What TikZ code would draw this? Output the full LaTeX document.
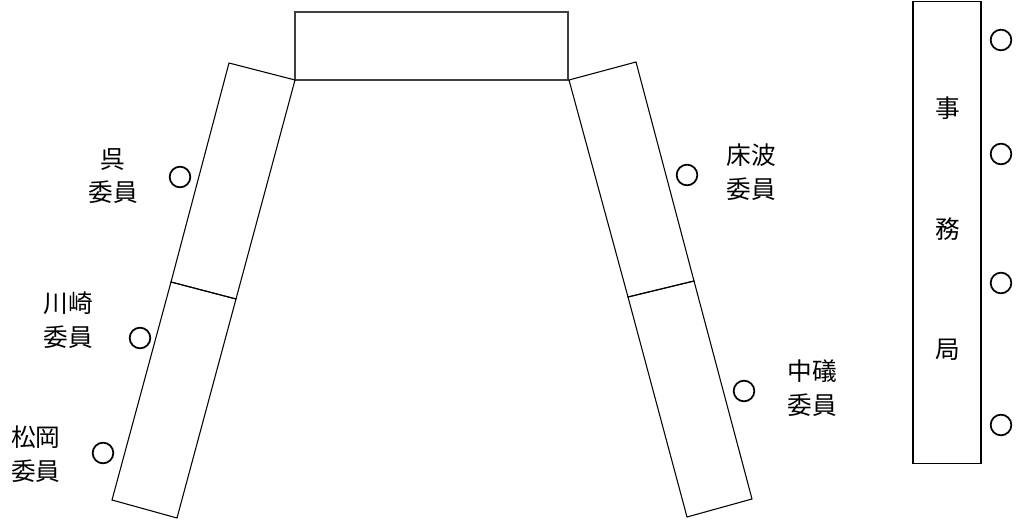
\documentclass[tikz,border=0pt]{standalone}
\usepackage{fontspec}
\setmainfont{Noto Sans CJK JP}
\begin{document}
\begin{tikzpicture}[x=0.75pt,y=-0.75pt,line width=0.8pt,lbl/.style={align=center, inner sep=0pt, font=\fontsize{18.5}{25}\selectfont}]
\tikzstyle{seat}=[circle, draw, line width=1.3pt, minimum size=15.5pt, inner sep=0pt]
\useasboundingbox (0,0) rectangle (1018,520);
% chairman's table
\node[draw=black!75, minimum width=204.75pt, minimum height=51pt, inner sep=0pt] (top) at (431.5,46){};
% left table corners
\coordinate (L1) at (229,63);
\coordinate (L2) at (295,80);
\coordinate (L3) at (236,299);
\coordinate (L4) at (171,282);
\coordinate (L5) at (177,518);
\coordinate (L6) at (112,500);
% right table corners
\coordinate (R1) at (569,80);
\coordinate (R2) at (636,62);
\coordinate (R3) at (694,281);
\coordinate (R4) at (628,297);
\coordinate (R5) at (752,499);
\coordinate (R6) at (687,517);
\draw (L1) -- (L2) -- (L3) -- (L4) -- cycle;
\draw (L4) -- (L3) -- (L5) -- (L6) -- cycle;
\draw (R1) -- (R2) -- (R3) -- (R4) -- cycle;
\draw (R4) -- (R3) -- (R5) -- (R6) -- cycle;
% members
\foreach \n/\x/\y/\lx/\ly/\t in {kure/180/177/113/176/呉,kawasaki/140/338/68/320/川崎,matsuoka/103/453/36/454/松岡,tonami/687/175/751/172/床波,nakaiso/744/391/812/388/中礒}{
  \node[seat] (\n) at (\x,\y){};
  \node[lbl] (\n-l) at (\lx,\ly){\t\\委員};
}
% secretariat
\node[draw, minimum width=51pt, minimum height=347pt, inner sep=0pt] (jim) at (947,232.5){};
\foreach \i/\y/\t in {1/108/事,2/229/務,3/350/局}{\node[lbl] (j\i) at (948,\y){\t};}
\foreach \i/\y in {1/40,2/154,3/283,4/425}{\node[seat] (s\i) at (1001,\y){};}
\end{tikzpicture}
\end{document}
